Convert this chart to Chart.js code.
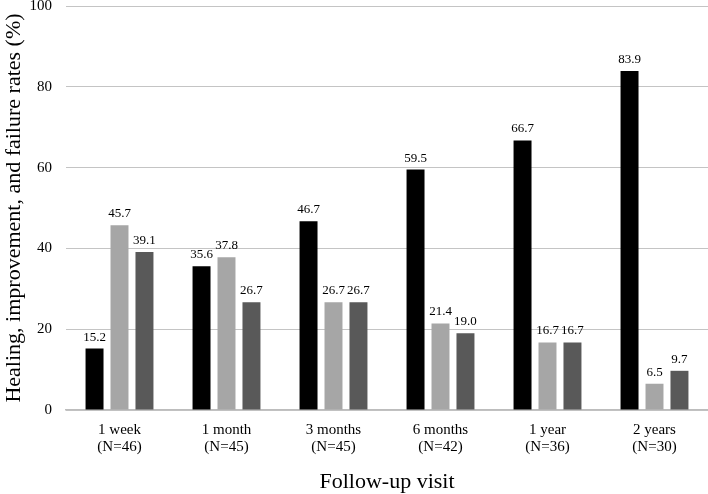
<!DOCTYPE html>
<html>
<head>
<meta charset="utf-8">
<script src="https://cdn.jsdelivr.net/npm/chart.js@4"></script>
<style>
    html, body { margin: 0; padding: 0; background: #fff; }
    #wrap { width: 708px; height: 494px; }
</style>
</head>
<body>
<div id="wrap"><canvas id="rates-chart"></canvas></div>
<script>
const visits = [
    ['1 week', '(N=46)'],
    ['1 month', '(N=45)'],
    ['3 months', '(N=45)'],
    ['6 months', '(N=42)'],
    ['1 year', '(N=36)'],
    ['2 years', '(N=30)']
];
const healing = [15.2, 35.6, 46.7, 59.5, 66.7, 83.9];
const improvement = [45.7, 37.8, 26.7, 21.4, 16.7, 6.5];
const failure = [39.1, 26.7, 26.7, 19.0, 16.7, 9.7];
const yTicks = [0, 20, 40, 60, 80, 100];

const serif = 'Liberation Serif';

// draw the value above each bar
const barValues = {
    id: 'barValues',
    afterDatasetsDraw(chart) {
        const ctx = chart.ctx;
        ctx.save();
        ctx.font = '13px "' + serif + '"';
        ctx.fillStyle = '#000';
        ctx.textAlign = 'center';
        ctx.textBaseline = 'bottom';
        chart.data.datasets.forEach((ds, i) => {
            chart.getDatasetMeta(i).data.forEach((bar, j) => {
                ctx.fillText(ds.data[j].toFixed(1), bar.x, bar.y - 5);
            });
        });
        ctx.restore();
    }
};

const data = {
    labels: visits,
    datasets: [
        { label: 'Healing', data: healing, backgroundColor: '#000000' },
        { label: 'Improvement', data: improvement, backgroundColor: '#a6a6a6' },
        { label: 'Failure', data: failure, backgroundColor: '#595959' }
    ]
};

const config = {
    type: 'bar',
    data: data,
    options: {
        responsive: true,
        maintainAspectRatio: false,
        animation: false,
        datasets: {
            bar: {
                categoryPercentage: 0.7,
                barPercentage: 0.72
            }
        },
        layout: {
            padding: { top: 6, right: 0, left: 0, bottom: 0 }
        },
        plugins: {
            legend: { display: false },
            tooltip: { enabled: false }
        },
        scales: {
            x: {
                grid: { display: false },
                border: { color: '#bdbdbd', width: 1.5 },
                ticks: {
                    color: '#000',
                    font: { family: serif, size: 15, lineHeight: 1.1 },
                    padding: 4,
                    maxRotation: 0
                },
                title: {
                    display: true,
                    text: 'Follow-up visit',
                    color: '#000',
                    font: { family: serif, size: 22 },
                    padding: { top: 0, bottom: -1 }
                },
                // fixed axis height so the baseline lands where the original has it
                afterFit: (scale) => {
                    scale.height = 84;
                }
            },
            y: {
                min: 0,
                max: 100,
                afterBuildTicks: (axis) => {
                    axis.ticks = yTicks.map(v => ({ value: v }));
                },
                grid: { color: '#c4c4c4', drawTicks: false },
                border: { display: false },
                ticks: {
                    color: '#000',
                    font: { family: serif, size: 15 },
                    padding: 14
                },
                title: {
                    display: true,
                    text: 'Healing, improvement, and failure rates (%)',
                    color: '#000',
                    font: { family: serif, size: 22 },
                    padding: { top: 1, bottom: 0 }
                },
                afterFit: (scale) => {
                    scale.width = 66;
                    scale.paddingTop = 0;
                }
            }
        }
    },
    plugins: [barValues]
};

new Chart(document.getElementById('rates-chart'), config);
</script>
</body>
</html>
